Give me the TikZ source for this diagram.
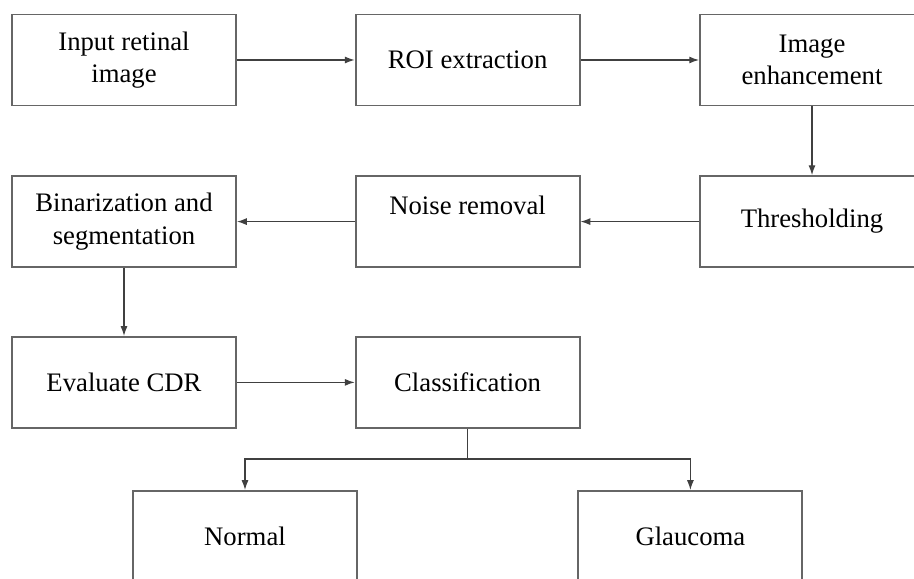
\documentclass[tikz,border=0pt]{standalone}
\usepackage{fontspec}
\setmainfont{Liberation Serif}
\usetikzlibrary{arrows.meta}

\begin{document}
\begin{tikzpicture}[box/.style={draw=black!60, line width=1.3pt, minimum width=5.6cm, minimum height=2.275cm, align=center, font=\fontsize{19}{23}\selectfont, inner sep=0pt},
  conn/.style={draw=black!75, line width=0.9pt, -{Latex[length=7pt,width=5pt]}}]
\useasboundingbox (0,0) rectangle (22.85,-14.475);
% first row
\node[box] (in)  at (3.1,-1.5)   {Input retinal\\image};
\node[box] (roi) at (11.69,-1.5) {ROI extraction};
\node[box] (enh) at (20.3,-1.5)  {Image\\enhancement};
% second row, right to left
\node[box] (thr)   at (20.3,-5.54)  {Thresholding};
\node[box] (noise) at (11.69,-5.54) {Noise removal\\\mbox{}};
\node[box] (bin)   at (3.1,-5.54)   {Binarization and\\segmentation};
% third row
\node[box] (cdr) at (3.1,-9.56)   {Evaluate CDR};
\node[box] (cls) at (11.69,-9.56) {Classification};
% results
\node[box] (nor) at (6.125,-13.41) {Normal};
\node[box] (gla) at (17.26,-13.41) {Glaucoma};

\draw[conn] (in) -- (roi);
\draw[conn] (roi) -- (enh);
\draw[conn] (enh) -- (thr);
\draw[conn] (thr) -- (noise);
\draw[conn] (noise) -- (bin);
\draw[conn] (bin) -- (cdr);
\draw[conn] (cdr) -- (cls);
\coordinate (split) at (cls.south |- 0,-11.475);
\draw[draw=black!75, line width=0.9pt] (cls.south) -- (split);
\draw[conn] (split) -| (nor.north);
\draw[conn] (split) -| (gla.north);
\end{tikzpicture}
\end{document}
